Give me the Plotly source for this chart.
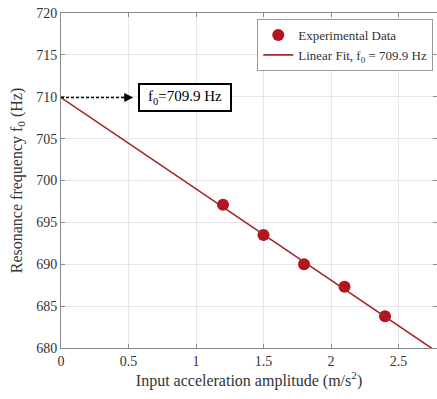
import plotly.graph_objects as go

accel = [1.2, 1.5, 1.8, 2.1, 2.4]
freq = [697.1, 693.5, 690.0, 687.3, 683.8]
f0 = 709.9
slope = -10.9
fit_x = [0.0, 2.8]
fit_y = [f0 + slope * x for x in fit_x]

xticks = [0, 0.5, 1, 1.5, 2, 2.5]
yticks = [680, 685, 690, 695, 700, 705, 710, 715, 720]

FONT = "Liberation Serif, Times New Roman, serif"
TXT = "#333333"
AX = "#8a8a8a"

fig = go.Figure()
fig.add_trace(go.Scatter(x=accel, y=freq, mode="markers", name="Experimental Data",
                         marker=dict(color="#B5141E", size=12), cliponaxis=False))
fig.add_trace(go.Scatter(x=fit_x, y=fit_y, mode="lines",
                         name="Linear Fit, f<sub>0</sub> = 709.9 Hz",
                         line=dict(color="#A3262A", width=1.6)))

# dashed arrow to intercept box
fig.add_shape(type="line", x0=0, x1=0.47, y0=f0, y1=f0, xref="x", yref="y",
              line=dict(color="black", width=1.5, dash="3px,2px"))
fig.add_annotation(x=0.535, y=f0, ax=0.45, ay=f0, xref="x", yref="y", axref="x", ayref="y",
                   text="", showarrow=True, arrowhead=2, arrowsize=1.2, arrowwidth=1.5,
                   arrowcolor="black")
fig.add_annotation(x=0.92, y=f0, xref="x", yref="y", text="f<sub>0</sub>=709.9 Hz",
                   showarrow=False, font=dict(family=FONT, size=15, color="black"),
                   width=82, height=17, align="center",
                   bordercolor="black", borderwidth=2, borderpad=4, bgcolor="white")

fig.update_layout(
    width=437, height=399,
    margin=dict(l=61, r=0, t=13, b=51),
    paper_bgcolor="white", plot_bgcolor="white",
    font=dict(family=FONT, size=14, color=TXT),
    showlegend=True,
    legend=dict(x=0.99, y=0.982, xanchor="right", yanchor="top",
                bgcolor="white", bordercolor="#9a9a9a", borderwidth=1,
                font=dict(family=FONT, size=13, color=TXT),
                tracegroupgap=0, itemwidth=30),
    xaxis=dict(range=[0, 2.785], tickvals=xticks, ticktext=[f"{v:g}" for v in xticks],
               showgrid=True, gridcolor="#e6e6e6", gridwidth=1, zeroline=False,
               showline=True, linecolor=AX, linewidth=1, mirror="ticks",
               ticks="inside", ticklen=4, tickcolor=AX,
               tickfont=dict(family=FONT, size=14, color=TXT),
               title=dict(text="Input acceleration amplitude (m/s<sup>2</sup>)", standoff=6,
                          font=dict(family=FONT, size=16, color=TXT))),
    yaxis=dict(range=[680, 720], tickvals=yticks,
               showgrid=True, gridcolor="#e6e6e6", gridwidth=1, zeroline=False,
               showline=True, linecolor=AX, linewidth=1, mirror="ticks",
               ticks="inside", ticklen=4, tickcolor=AX,
               tickfont=dict(family=FONT, size=14, color=TXT),
               title=dict(text="Resonance frequency f<sub>0</sub> (Hz)", standoff=9,
                          font=dict(family=FONT, size=16, color=TXT))),
)

fig.write_html("out.html")
